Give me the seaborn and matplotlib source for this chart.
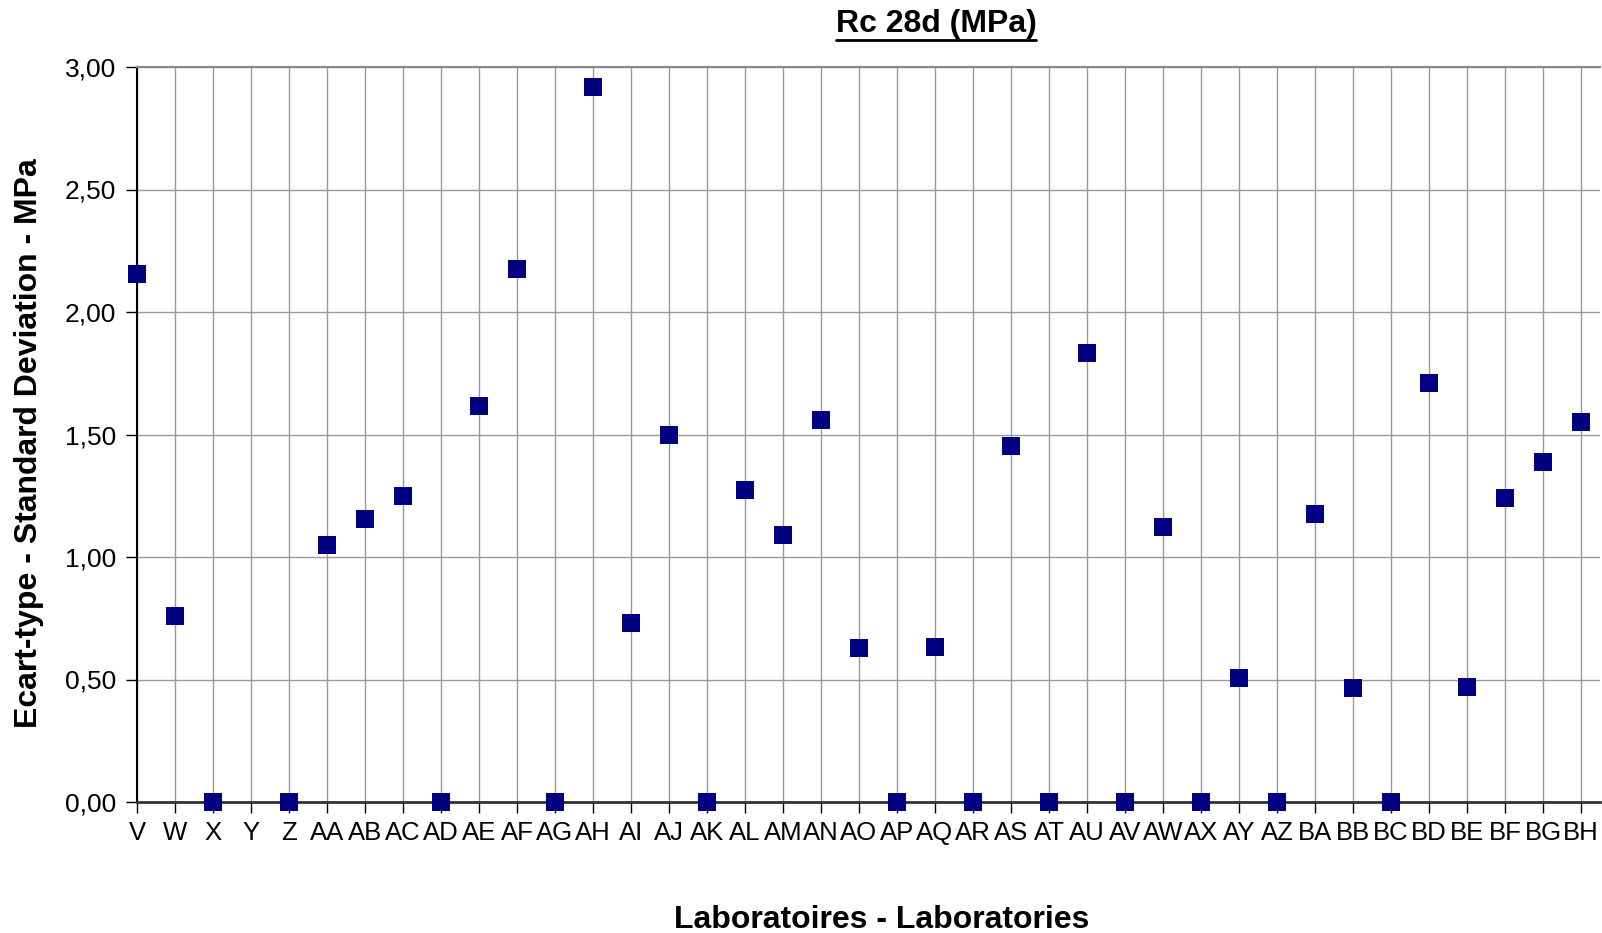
import numpy as np
import pandas as pd
import matplotlib
matplotlib.use("Agg")
import matplotlib.pyplot as plt
import seaborn as sns
from matplotlib.lines import Line2D

labs = ["V", "W", "X", "Y", "Z", "AA", "AB", "AC", "AD", "AE", "AF", "AG", "AH", "AI",
        "AJ", "AK", "AL", "AM", "AN", "AO", "AP", "AQ", "AR", "AS", "AT", "AU", "AV",
        "AW", "AX", "AY", "AZ", "BA", "BB", "BC", "BD", "BE", "BF", "BG", "BH"]
std_dev = [2.157, 0.759, 0.0, np.nan, 0.0, 1.051, 1.156, 1.247, 0.0, 1.615, 2.174, 0.0,
           2.920, 0.730, 1.498, 0.0, 1.272, 1.089, 1.560, 0.630, 0.0, 0.634, 0.0, 1.452,
           0.0, 1.831, 0.0, 1.122, 0.0, 0.505, 0.0, 1.176, 0.467, 0.0, 1.710, 0.471,
           1.239, 1.389, 1.552]
yticks = [0.0, 0.5, 1.0, 1.5, 2.0, 2.5, 3.0]

sns.set_style("white")
plt.rcParams['font.family'] = ['Liberation Sans', 'DejaVu Sans']
plt.rcParams['text.color'] = 'black'
plt.rcParams['xtick.color'] = 'black'
plt.rcParams['ytick.color'] = 'black'
plt.rcParams['axes.labelcolor'] = 'black'

df = pd.DataFrame({"pos": np.arange(len(labs)), "lab": labs, "val": std_dev})

fig = plt.figure(figsize=(16.02, 9.33), dpi=100)
ax = fig.add_axes([137/1602, 1-802/933, (1600-137)/1602, (802-67)/933])

sns.scatterplot(data=df.dropna(), x="pos", y="val", ax=ax, marker="s", s=150,
                color="#000080", edgecolor="#000080", linewidth=0, zorder=5, clip_on=False)

ax.set_xlim(0, 38.5)
ax.set_ylim(0, 3.0)
ax.set_xticks(df["pos"])
ax.set_xticklabels(labs, fontsize=18.5)
ax.set_yticks(yticks)
ax.set_yticklabels([f"{v:.2f}".replace(".", ",") for v in yticks], fontsize=19)
ax.grid(True, color="#999999", linewidth=1.0)
ax.set_axisbelow(True)
ax.tick_params(axis="both", which="both", direction="out", length=8, width=1,
               color="black", labelcolor="black", left=True, bottom=True)
ax.tick_params(axis="x", pad=6)
ax.tick_params(axis="y", pad=7)
ax.spines["right"].set_visible(False)
ax.spines["top"].set_color("#888888")
ax.spines["top"].set_linewidth(1.5)
ax.spines["left"].set_color("black")
ax.spines["left"].set_linewidth(1.5)
ax.spines["bottom"].set_color("#333333")
ax.spines["bottom"].set_linewidth(2.0)

ax.set_xlabel("")
ax.set_ylabel("")
fig.text(29/1602, 1-443/933, "Ecart-type - Standard Deviation - MPa", rotation=90,
         fontsize=23, fontweight="bold", ha="center", va="center", color="black")
fig.text(882/1602, 1-920/933, "Laboratoires - Laboratories",
         fontsize=23, fontweight="bold", ha="center", va="center", color="black")
t = fig.text(936/1602, 1-24/933, "Rc 28d (MPa)",
             fontsize=23, fontweight="bold", ha="center", va="center", color="black")

fig.canvas.draw()
bb = t.get_window_extent(renderer=fig.canvas.get_renderer())
inv = fig.transFigure.inverted()
(x0, y0), (x1, y1) = inv.transform([[bb.x0, bb.y0], [bb.x1, bb.y0]])
fig.add_artist(Line2D([x0, x1], [y0 - 1/933, y0 - 1/933], transform=fig.transFigure,
                      color="black", linewidth=2))

fig.savefig("out.png", dpi=100)
